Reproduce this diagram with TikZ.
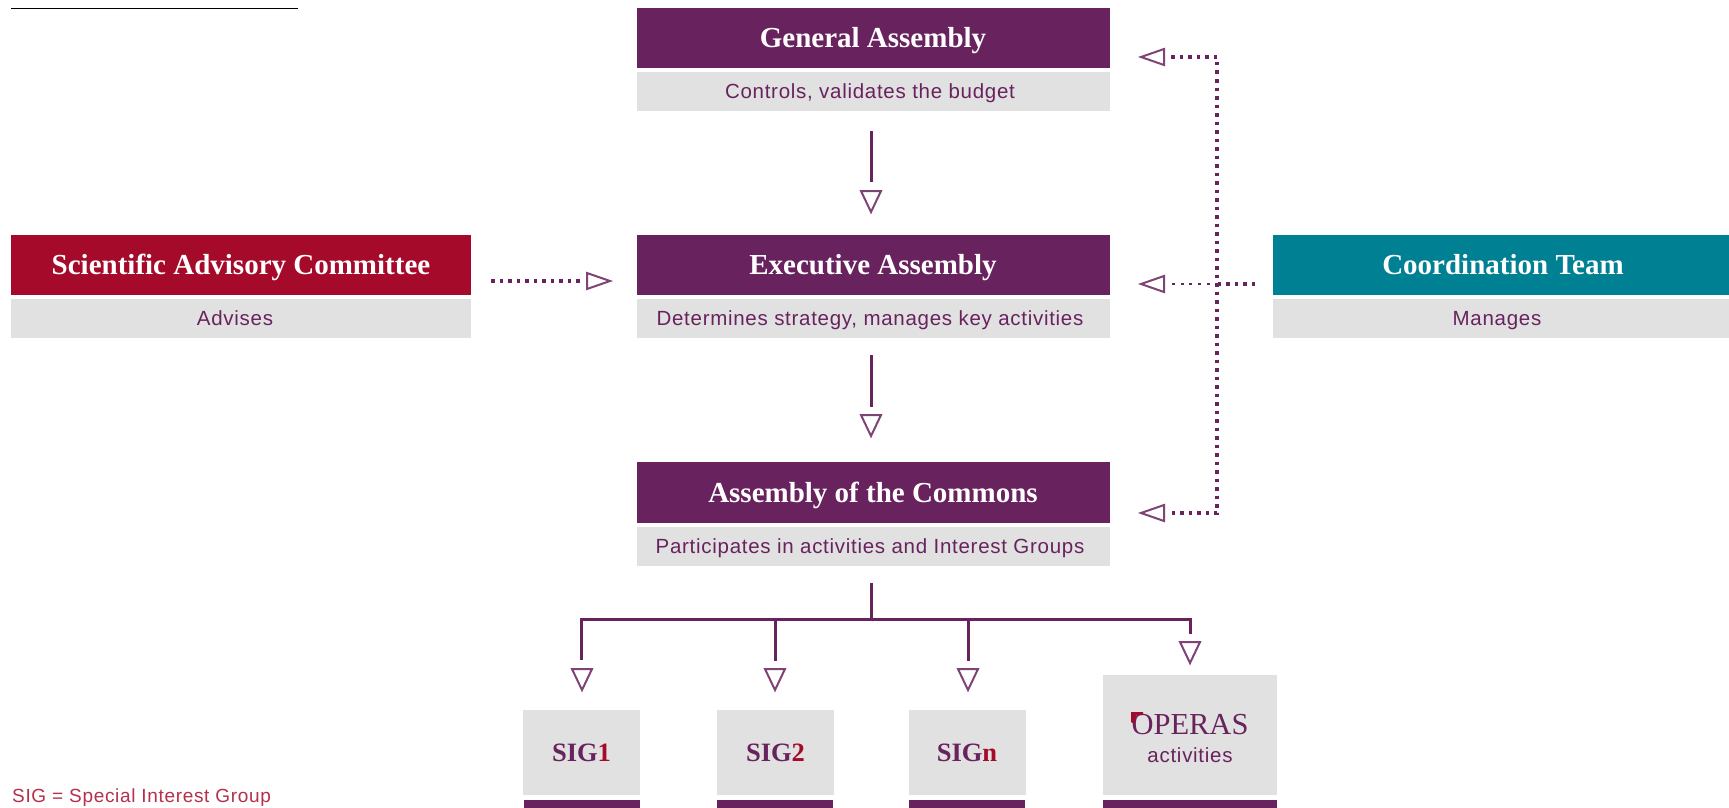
\documentclass[tikz,border=0pt]{standalone}
\usepackage{fontspec}
\setmainfont{Liberation Serif}
\setsansfont{Liberation Sans}
\newfontfamily\subfont[LetterSpace=3.5]{Liberation Sans}
\definecolor{plum}{HTML}{68235E}
\definecolor{crimson}{HTML}{A50A2A}
\definecolor{tealbar}{HTML}{008093}
\definecolor{lightgrey}{HTML}{E1E1E1}
\definecolor{footred}{HTML}{B5304A}
\newcommand{\triD}[1]{\draw[tripath] (#1) -- ++(-10,-21) -- ++(20,0) -- cycle;}
\newcommand{\triL}[1]{\draw[tripath] (#1) -- ++(23,-8) -- ++(0,16) -- cycle;}
\newcommand{\triR}[1]{\draw[tripath] (#1) -- ++(-23,-8) -- ++(0,16) -- cycle;}
\tikzset{
  x=1pt,y=-1pt,
  boxbase/.style={rectangle,inner sep=0pt,outer sep=0pt,draw=none},
  headfont/.style={text height=24pt,text depth=5pt,font=\fontsize{29}{32}\selectfont\bfseries},
  subfontstyle/.style={text height=20pt,text depth=5.3pt,font=\subfont\fontsize{20.5}{24}\selectfont},
  headbox/.style={boxbase,minimum height=60.5pt,text=white,headfont},
  subbox/.style={boxbase,fill=lightgrey,minimum height=39pt,text=plum,subfontstyle},
  sigbox/.style={boxbase,fill=lightgrey,text=plum,font=\fontsize{26.5}{30}\selectfont\bfseries},
  solidline/.style={draw=plum,line width=3pt},
  dotline/.style={draw=plum,line width=4pt,dash pattern=on 3.5pt off 5pt},
  finedot/.style={draw=plum,line width=2.5pt,dash pattern=on 3pt off 5.7pt},
  tripath/.style={draw=plum!85,line width=2pt,line join=miter,fill=white},
}
\begin{document}
\begin{tikzpicture}
\useasboundingbox (0,0) rectangle (1729,808);
\fill[white] (0,0) rectangle (1729,808);
\draw[black,line width=1pt] (11,9) -- (298,9);

% main column
\node[headbox,fill=plum,minimum width=473pt] (ga) at (873,38) {General Assembly};
\node[subbox,minimum width=473pt] (gasub) at (873,91.5) {Controls, validates the budget\hspace*{6pt}};
\node[headbox,fill=plum,minimum width=473pt] (ea) at (873,265) {Executive Assembly};
\node[subbox,minimum width=473pt] (easub) at (873,318.5) {Determines strategy, manages key activities\hspace*{6pt}};
\node[headbox,fill=plum,minimum width=473pt] (ac) at (873,492.5) {Assembly of the Commons};
\node[subbox,minimum width=473pt] (acsub) at (873,546) {Participates in activities and Interest Groups\hspace*{6pt}};

% side boxes
\node[headbox,fill=crimson,minimum width=460pt] (sac) at (241,265) {Scientific Advisory Committee};
\node[subbox,minimum width=460pt] (sacsub) at (241,318.5) {Advises\hspace*{12pt}};
\node[headbox,fill=tealbar,minimum width=456pt] (ct) at (1501,265) {\hspace*{4pt}Coordination Team};
\node[subbox,minimum width=456pt] (ctsub) at (1501,318.5) {Manages\hspace*{8pt}};

% bottom boxes
\node[sigbox,minimum width=117pt,minimum height=85pt] (sa) at (581.5,752.5) {SIG\textcolor{crimson}{1}};
\node[sigbox,minimum width=117pt,minimum height=85pt] (sb) at (775.5,752.5) {SIG\textcolor{crimson}{2}};
\node[sigbox,minimum width=117pt,minimum height=85pt] (sn) at (967,752.5) {SIG\textcolor{crimson}{n}};
\node[boxbase,fill=lightgrey,minimum width=174pt,minimum height=120pt] (op) at (1190,735) {};
\node[text=plum,font=\fontsize{30.5}{33}\selectfont,inner sep=0pt] (optitle) at (1190,725) {OPERAS};
\node[text=plum,font=\subfont\fontsize{20.5}{24}\selectfont,inner sep=0pt] (opsub) at (1190,755) {activities};
\fill[crimson] (1131,712) -- (1143,712) -- (1143,715) -- (1136,715) -- (1134,724) -- (1131,722) -- cycle;

\fill[plum] (524,800) rectangle (640,808);
\fill[plum] (717,800) rectangle (833,808);
\fill[plum] (909,800) rectangle (1025,808);
\fill[plum] (1103,800) rectangle (1277,808);

\node[anchor=west,text=footred,font=\subfont\fontsize{19}{22}\selectfont,inner sep=0pt] (foot) at (12,797.5) {SIG = Special Interest Group};

% vertical arrows
\coordinate (tipea) at (871,212);
\coordinate (baseea) at (871,191);
\coordinate (tipac) at (871,436);
\coordinate (baseac) at (871,415);
\draw[solidline,shorten <=20pt,shorten >=9pt] (gasub.south -| baseea) -- (baseea);
\draw[solidline,shorten <=17pt,shorten >=8pt] (easub.south -| baseac) -- (baseac);
\triD{tipea}
\triD{tipac}

% tree
\coordinate (hub) at (871,619);
\coordinate (basea) at (581,669);
\coordinate (baseb) at (775,669);
\coordinate (basen) at (968,669);
\coordinate (baseo) at (1190,642);
\coordinate (tipa) at (582,690);
\coordinate (tipb) at (775,690);
\coordinate (tipn) at (968,690);
\coordinate (tipo) at (1190,663);
\draw[solidline,shorten <=17pt] (acsub.south -| hub) -- (hub);
\draw[solidline,shorten >=9pt] (hub) -| (basea);
\draw[solidline,shorten >=8pt] (hub) -| (baseb);
\draw[solidline,shorten >=8pt] (hub) -| (basen);
\draw[solidline,shorten >=8pt] (hub) -| (baseo);
\triD{tipa}
\triD{tipb}
\triD{tipn}
\triD{tipo}

% left dotted arrow
\coordinate (rtip) at (610,281);
\coordinate (rbase) at (587,281);
\draw[dotline,shorten <=20pt,shorten >=6pt] (sac.east |- rbase) -- (rbase);
\triR{rtip}

% right dotted arrows
\coordinate (ltop) at (1141,57);
\coordinate (lmid) at (1141,284);
\coordinate (lbot) at (1141,513);
\coordinate (railtop) at (1217,57);
\coordinate (railmid) at (1217,284);
\coordinate (railbot) at (1217,513);
\draw[dotline,shorten <=30pt] (ltop) -- (railtop) -- (railbot) -- (lbot |- railbot) ;
\draw[finedot,shorten <=31pt] (lmid) -- (railmid);
\draw[dotline,shorten <=18pt] (ct.west |- railmid) -- (railmid);
\fill[white] (1164,500) rectangle (1171,520);
\triL{ltop}
\triL{lmid}
\triL{lbot}
\end{tikzpicture}
\end{document}
